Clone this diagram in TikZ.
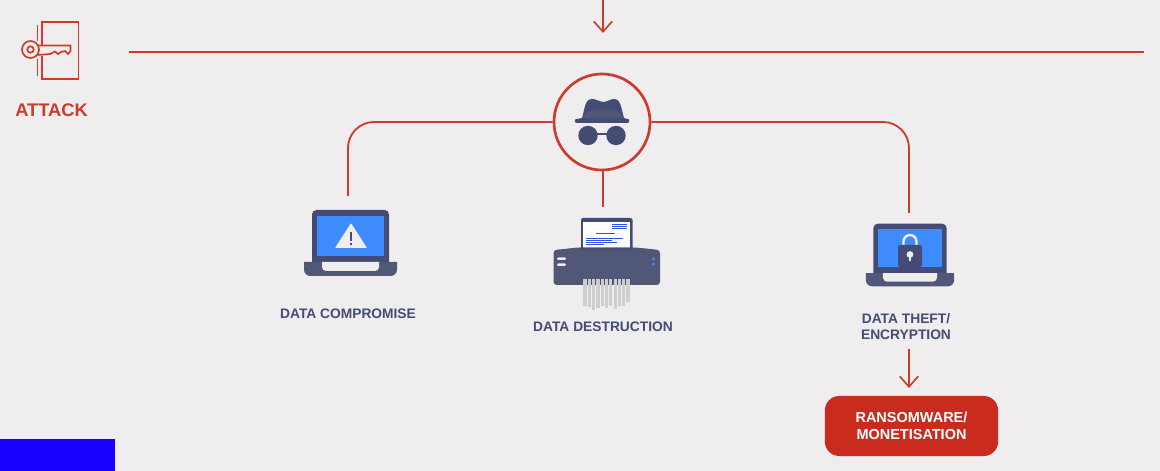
\documentclass[tikz,border=0pt]{standalone}
\usepackage{fontspec}
\setmainfont{Liberation Sans}
\usepackage{xcolor}
\usetikzlibrary{arrows.meta, positioning, calc}
\definecolor{pagegrey}{HTML}{EFEDEE}
\definecolor{attackred}{HTML}{CC3B2D}
\definecolor{boxred}{HTML}{C92C1E}
\definecolor{iconnavy}{HTML}{444B75}
\definecolor{basenavy}{HTML}{515777}
\definecolor{screenblue}{HTML}{3F8CFF}
\definecolor{linkblue}{HTML}{2F4FE0}
\definecolor{stripgrey}{HTML}{CFCECF}
\definecolor{markblue}{HTML}{1A00FF}
\tikzset{
  laptop/.pic={
    \fill[iconnavy, rounded corners=1.1mm] (-38.5,24) -- (-38.5,-33) -- (38.5,-33) -- (38.5,24) -- cycle;
    \fill[screenblue] (-33.5,13) rectangle (33.5,-27);
    \fill[basenavy] (0,19) -- (46.5,19) [rounded corners=1.6mm] -- (46.5,33) -- (-46.5,33) [sharp corners] -- (-46.5,19) -- cycle;
    \fill[pagegrey] (0,19) -- (28.5,19) [rounded corners=1mm] -- (28.5,28) -- (-28.5,28) [sharp corners] -- (-28.5,19) -- cycle;
  }
}
\begin{document}
\begin{tikzpicture}[
  x=0.025cm, y=-0.025cm,
  redline/.style={draw=attackred, line width=1.3pt},
  redarrow/.style={redline, -{Straight Barb[length=2.6mm, width=4.6mm, line width=1.15pt]}},
  iconline/.style={draw=attackred, line width=1.2pt},
  caption/.style={align=center, text=iconnavy, font=\fontsize{9.8}{11.4}\selectfont\bfseries, inner sep=0pt},
  spyring/.style={circle, draw=attackred, line width=1.9pt, minimum size=2.4cm, fill=pagegrey, inner sep=0pt},
  endbox/.style={rounded corners=0.36cm, fill=boxred, text=white, align=center, minimum width=4.33cm, minimum height=1.5cm, inner sep=0pt, font=\fontsize{10.3}{12}\selectfont\bfseries}
]
\useasboundingbox (0,0) rectangle (1160,471);
\fill[pagegrey] (0,0) rectangle (1160,471);
\fill[markblue] (0,439) rectangle (115,471);

\coordinate (enter) at (603,0);
\coordinate (enterend) at (603,33);
\coordinate (ruleL) at (129,52);
\coordinate (ruleR) at (1144,52);
\coordinate (topA) at (348,196);
\coordinate (topB) at (603,207);
\coordinate (topC) at (909,213);
\node[spyring] (spy) at (602,122) {};
\node[caption, text=attackred, font=\fontsize{13}{16}\selectfont\bfseries] (attack) at (51.5,110) {ATTACK};
\node[caption] (compromise) at (348,313.5) {DATA COMPROMISE};
\node[caption] (destruction) at (603,326.5) {DATA DESTRUCTION};
\node[caption] (theft) at (906,327) {DATA THEFT/\\ENCRYPTION};
\node[endbox] (ransom) at (911.5,426) {RANSOMWARE/\\MONETISATION};

\draw[redarrow] (enter) -- (enterend);
\draw[redline] (ruleL) -- (ruleR);
\draw[redline, rounded corners=0.65cm] (spy.west) -- (topA |- spy.west) -- (topA);
\draw[redline, rounded corners=0.65cm] (spy.east) -- (topC |- spy.east) -- (topC);
\draw[redline] (topB |- spy.south) -- (topB);
\draw[redarrow] (909,349) -- (909,388);

% door and key
\draw[iconline] (42,45) -- (42,22) -- (78.5,22) -- (78.5,79) -- (42,79) -- (42,56);
\draw[iconline] (37.5,25) -- (37.5,41);
\draw[iconline] (37.5,59) -- (37.5,76);
\draw[iconline] (30.5,49.5) circle (8.5);
\draw[iconline] (30.5,49.5) circle (3.2);
\draw[iconline] (38,45.5) -- (70.5,45.5) -- (70.5,51) -- (68,54) -- (65,51) -- (61,52) -- (58,54) -- (55,51.5) -- (50,54) -- (38,55);

% spy
\fill[iconnavy] (575,119.5) -- (582,118) .. controls (585,108) and (585,99) .. (592,99) .. controls (597,99) and (599,102) .. (603,102) .. controls (607,102) and (610,99) .. (614,99) .. controls (621,99) and (621,108) .. (624,118) -- (629,119.5) .. controls (630,122) and (629,123) .. (627,123) -- (577,123) .. controls (575,123) and (574,122) .. (575,119.5) -- cycle;
\fill[basenavy] (582,118) .. controls (585,112) and (595,107) .. (603,110) .. controls (611,107) and (621,112) .. (624,118) -- cycle;
\fill[iconnavy] (588,135.5) circle (9.7);
\fill[iconnavy] (616,135.5) circle (9.7);
\draw[iconnavy, line width=1.3pt] (596,134) -- (608,134);

% laptops
\pic at (350.5,243) {laptop};
\fill[pagegrey, rounded corners=0.2mm] (351,223) -- (367,248) -- (335,248) -- cycle;
\fill[iconnavy] (349.8,232) rectangle (352.2,241.5);
\fill[iconnavy] (349.8,243) rectangle (352.2,245.5);

\pic[scale=0.95] at (910,255) {laptop};
\draw[pagegrey, line width=1.7pt] (903.5,246) -- (903.5,241.5) arc (180:360:6.5) -- (916.5,246);
\fill[iconnavy, rounded corners=0.6mm] (898,245) rectangle (922,267);
\fill[pagegrey] (910,254.5) circle (3.4);
\fill[pagegrey] (908.8,255) rectangle (911.2,261);

% shredder
\fill[iconnavy, rounded corners=0.5mm] (581,250) -- (581,218) -- (632.5,218) -- (632.5,250) -- cycle;
\fill[white] (583,222) rectangle (630,248);
\foreach \xa/\xb/\ya in {612/627/224, 612/627/226.5, 612/627/228.5, 596/615/233.5, 586/622.5/238.3, 586/612/240.4, 586/617/242.5, 586/604/244.6}
  \draw[linkblue, line width=0.6pt] (\xa,\ya) -- (\xb,\ya);
\fill[basenavy, rounded corners=0.8mm] (553.5,285) -- (553.5,250) .. controls (570,248.5) and (575,247.5) .. (583,247.5) -- (630,247.5) .. controls (638,247.5) and (645,248.5) .. (660,250) -- (660,285) -- cycle;
\fill[iconnavy] (581,248) rectangle (632.5,250);
\fill[iconnavy] (582,279) rectangle (631,281);
\foreach \xs/\ye in {585/306, 589.3/307.5, 593.6/310, 597.9/308, 602.2/306.5, 606.5/308, 610.8/306.5, 615.1/309, 619.4/306, 623.7/306.5, 628/302}
  \fill[stripgrey] (\xs-1.6,279) rectangle (\xs+1.6,\ye);
\fill[pagegrey, rounded corners=0.3mm] (557,257.5) rectangle (566,260);
\fill[pagegrey, rounded corners=0.3mm] (557,263.5) rectangle (566,266);
\fill[screenblue] (653.5,259) circle (1.7);
\fill[screenblue] (653.5,264) circle (1.7);
\end{tikzpicture}
\end{document}
